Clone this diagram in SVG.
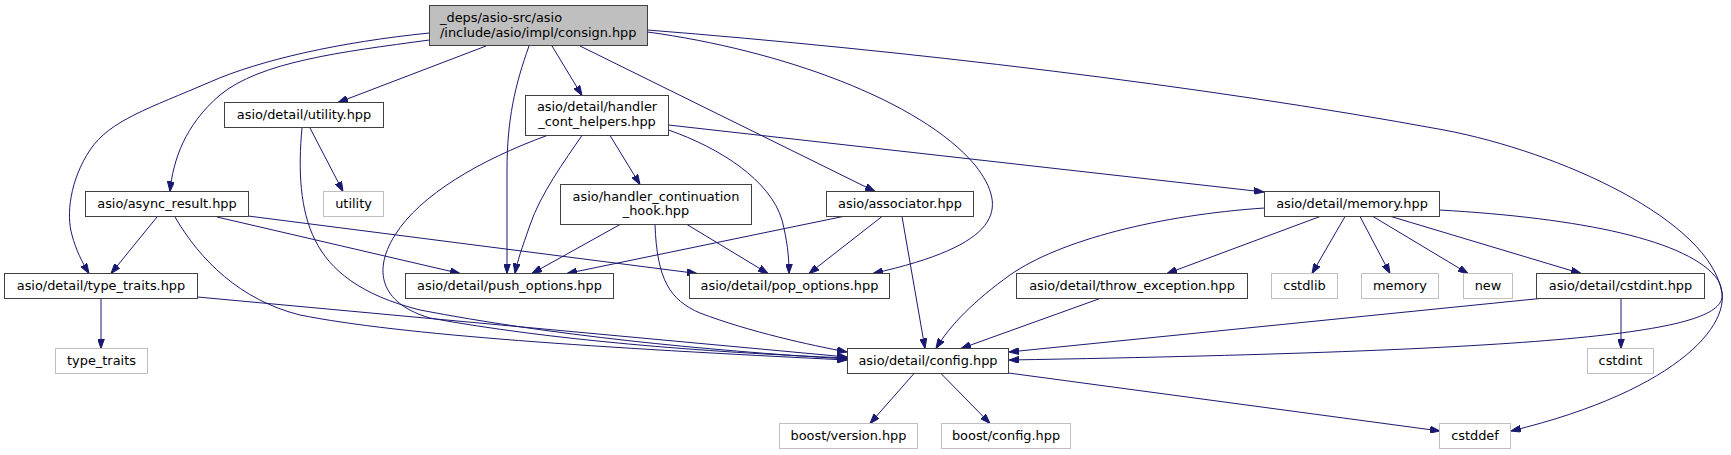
<svg xmlns="http://www.w3.org/2000/svg" width="1731" height="455" viewBox="0 0 1731 455">
<style>
.n rect{fill:#fff;stroke:#404040;stroke-width:1}
.g rect{fill:#fff;stroke:#bfbfbf;stroke-width:1}
.r rect{fill:#bfbfbf;stroke:#404040;stroke-width:1}
text{font-family:"DejaVu Sans","Liberation Sans",sans-serif;font-size:12.9px;fill:#000;text-anchor:middle}
.l{text-anchor:start}
#edges path{fill:none;stroke:#191970;stroke-width:1;marker-end:url(#ah)}
</style>
<defs>
<marker id="ah" viewBox="0 0 10 7" refX="10" refY="3.5" markerWidth="10" markerHeight="7" markerUnits="userSpaceOnUse" orient="auto"><path d="M0,0 L10,3.5 L0,7 z" fill="#191970" stroke="#191970" stroke-width="1"/></marker>
</defs>
<rect width="1731" height="455" fill="#fff"/>
<g id="edges">
<path d="M486,46 L338,102.5"/>
<path d="M429.5,40 C340,52 260,62 220,95 C185,125 173,160 170,191.5"/>
<path d="M429.5,33 C340,42 260,60 210,82 C150,108 110,120 90,150 C70,180 66,215 72,235 C76,250 82,262 89,273.5"/>
<path d="M529,46 C515,85 507,120 507,170 L507,273.5"/>
<path d="M552,46 L582,95.5"/>
<path d="M580,46 L875,191.5"/>
<path d="M647.5,32 C780,50 920,100 975,165 C1010,210 1000,245 873,273.5"/>
<path d="M647.5,30 C900,50 1200,85 1444,130 C1560,152 1710,220 1722,293 C1728,330 1600,350 1009,360"/>
<path d="M310,128 L343,191.5"/>
<path d="M302,128 C298,170 300,210 315,240 C330,270 360,295 420,310 C550,335 700,350 847,359"/>
<path d="M582,135.5 C565,160 540,195 530,225 C522,248 517,262 515,273.5"/>
<path d="M610,135.5 L640,184.5"/>
<path d="M547,135.5 C480,160 420,195 395,235 C370,275 385,305 430,318 C550,340 700,352 847,358"/>
<path d="M668.5,125 L1264,192"/>
<path d="M668.5,130 C720,148 770,180 782,220 C787,240 789,255 789,273.5"/>
<path d="M157,217 L111,273.5"/>
<path d="M175,217 C200,260 240,300 300,315 C400,335 600,348 847,360"/>
<path d="M217,217 L460,273.5"/>
<path d="M248,216 L697,273.5"/>
<path d="M620,224.5 L532,273.5"/>
<path d="M687,224.5 L768,273.5"/>
<path d="M655,224.5 C657,280 670,300 700,313 C750,332 810,345 847,352"/>
<path d="M843,216.5 L567,273.5"/>
<path d="M882,216.5 L809,273.5"/>
<path d="M902,216.5 L925,348.5"/>
<path d="M1264.5,208 C1160,215 1060,240 1010,275 C975,300 950,325 936,348.5"/>
<path d="M1320,216.5 L1167,273.5"/>
<path d="M1345,216.5 L1312,273.5"/>
<path d="M1360,216.5 L1390,273.5"/>
<path d="M1373,216.5 L1468,273.5"/>
<path d="M1391,216.5 L1581,273.5"/>
<path d="M1439.5,210 C1580,218 1690,240 1718,280 C1740,320 1680,390 1511,431"/>
<path d="M1100,298.5 L961,348.5"/>
<path d="M1540,298.5 L1009,352"/>
<path d="M1621,298.5 L1621,348.5"/>
<path d="M101,298.5 L101,348.5"/>
<path d="M197.5,297 L847,357"/>
<path d="M914,373.5 L870,423.5"/>
<path d="M941,373.5 L990,423.5"/>
<path d="M1008.5,373 L1440,431"/>
</g>
<g id="consign" class="r"><rect x="429.5" y="5.5" width="218" height="40"/><text class="l" x="440" y="22">_deps/asio-src/asio</text><text class="l" x="440" y="36.5">/include/asio/impl/consign.hpp</text></g>
<g id="utility_hpp" class="n"><rect x="224.5" y="102.5" width="159" height="25"/><text x="304" y="119">asio/detail/utility.hpp</text></g>
<g id="handler_cont_helpers" class="n"><rect x="525.5" y="95.5" width="143" height="40"/><text x="597" y="111">asio/detail/handler</text><text x="597" y="125.5">_cont_helpers.hpp</text></g>
<g id="async_result" class="n"><rect x="85.5" y="191.5" width="163" height="25"/><text x="167" y="208">asio/async_result.hpp</text></g>
<g id="utility" class="g"><rect x="323.5" y="191.5" width="60" height="25"/><text x="353.5" y="208">utility</text></g>
<g id="handler_continuation_hook" class="n"><rect x="560.5" y="184.5" width="191" height="40"/><text x="656" y="200.5">asio/handler_continuation</text><text x="656" y="214.5">_hook.hpp</text></g>
<g id="associator" class="n"><rect x="826.5" y="191.5" width="147" height="25"/><text x="900" y="208">asio/associator.hpp</text></g>
<g id="memory_hpp" class="n"><rect x="1264.5" y="191.5" width="175" height="25"/><text x="1352" y="208">asio/detail/memory.hpp</text></g>
<g id="type_traits_hpp" class="n"><rect x="4.5" y="273.5" width="193" height="25"/><text x="101" y="290">asio/detail/type_traits.hpp</text></g>
<g id="push_options" class="n"><rect x="405.5" y="273.5" width="208" height="25"/><text x="509.5" y="290">asio/detail/push_options.hpp</text></g>
<g id="pop_options" class="n"><rect x="689.5" y="273.5" width="200" height="25"/><text x="789.5" y="290">asio/detail/pop_options.hpp</text></g>
<g id="throw_exception" class="n"><rect x="1016.5" y="273.5" width="231" height="25"/><text x="1132" y="290">asio/detail/throw_exception.hpp</text></g>
<g id="cstdlib" class="g"><rect x="1271.5" y="273.5" width="66" height="25"/><text x="1304.5" y="290">cstdlib</text></g>
<g id="memory" class="g"><rect x="1361.5" y="273.5" width="77" height="25"/><text x="1400" y="290">memory</text></g>
<g id="new" class="g"><rect x="1463.5" y="273.5" width="49" height="25"/><text x="1488" y="290">new</text></g>
<g id="cstdint_hpp" class="n"><rect x="1536.5" y="273.5" width="168" height="25"/><text x="1620.5" y="290">asio/detail/cstdint.hpp</text></g>
<g id="type_traits" class="g"><rect x="55.5" y="348.5" width="92" height="25"/><text x="101.5" y="365">type_traits</text></g>
<g id="config_hpp" class="n"><rect x="847.5" y="348.5" width="161" height="25"/><text x="928" y="365">asio/detail/config.hpp</text></g>
<g id="cstdint" class="g"><rect x="1587.5" y="348.5" width="66" height="25"/><text x="1620.5" y="365">cstdint</text></g>
<g id="boost_version" class="g"><rect x="779.5" y="423.5" width="138" height="25"/><text x="848.5" y="440">boost/version.hpp</text></g>
<g id="boost_config" class="g"><rect x="941.5" y="423.5" width="129" height="25"/><text x="1006" y="440">boost/config.hpp</text></g>
<g id="cstddef" class="g"><rect x="1439.5" y="423.5" width="71" height="25"/><text x="1475" y="440">cstddef</text></g>
</svg>
